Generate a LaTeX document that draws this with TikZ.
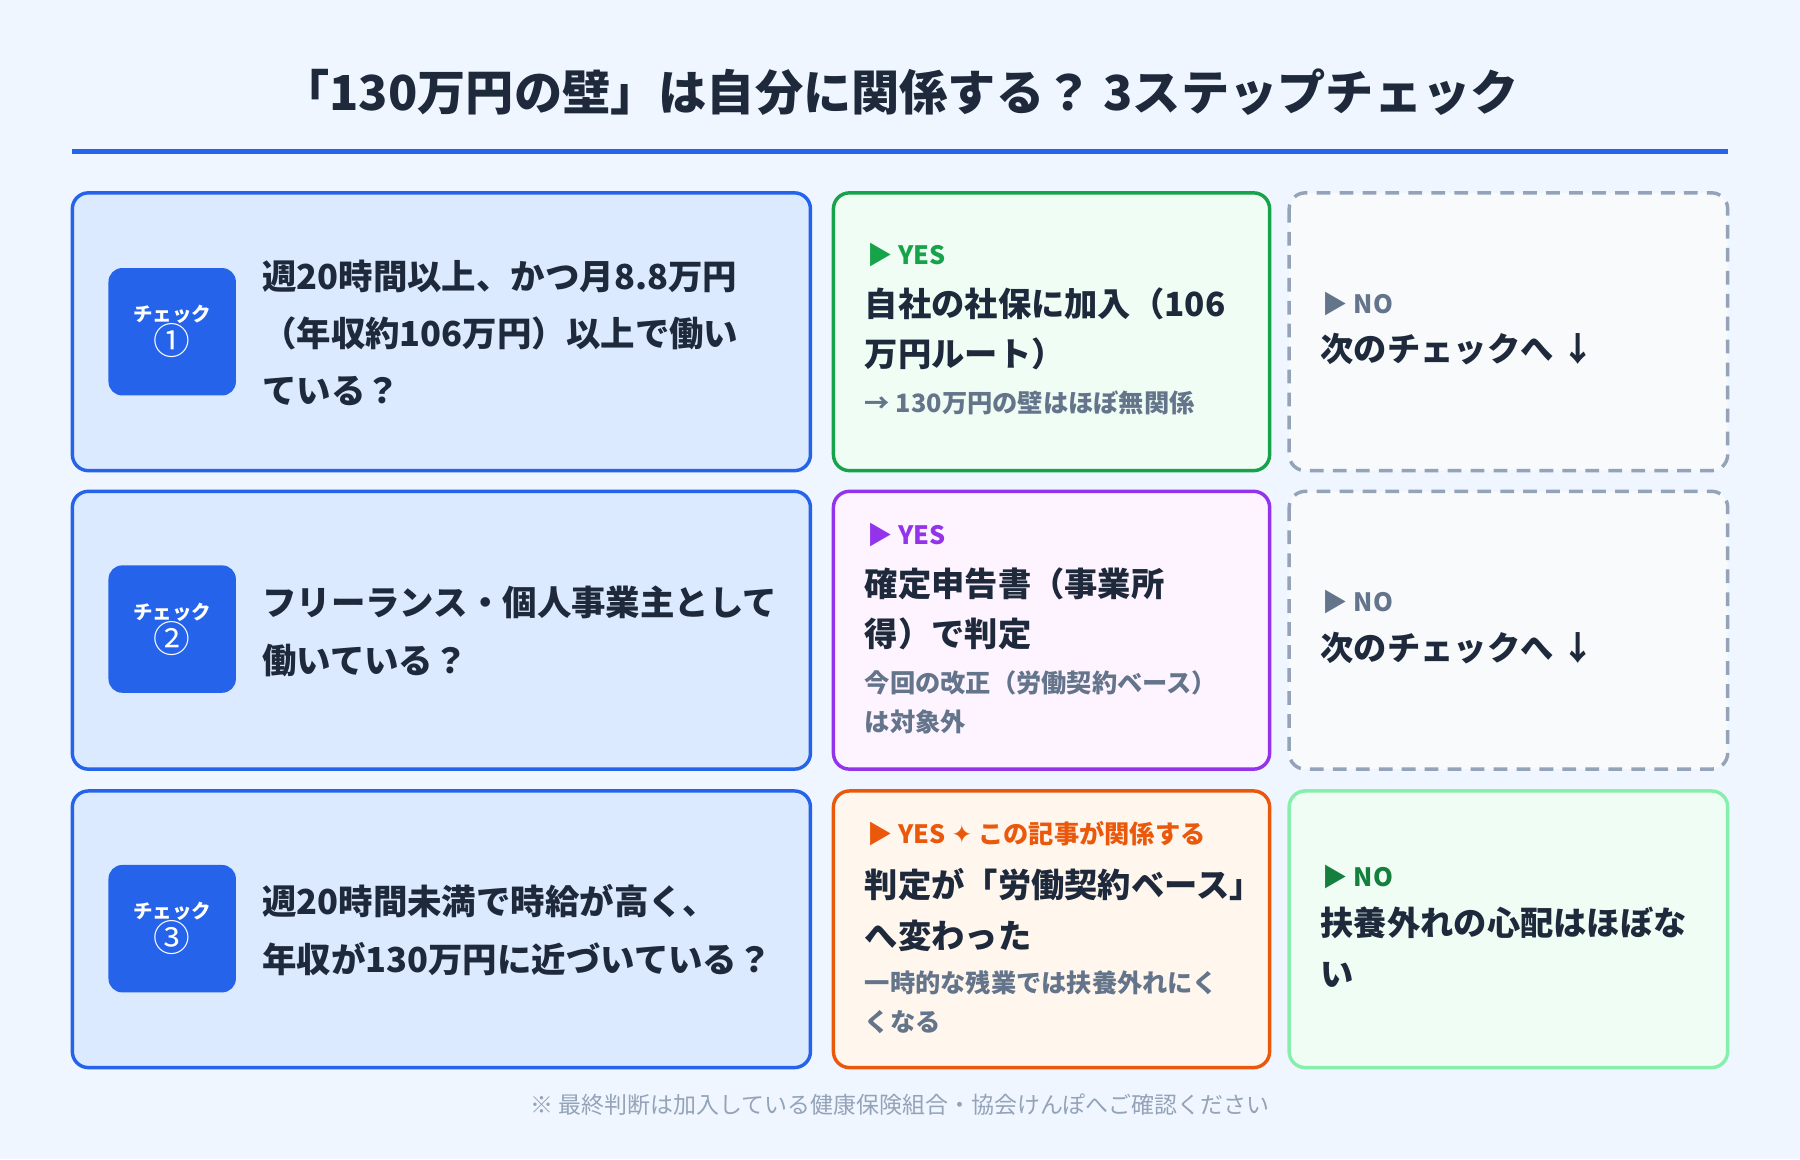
\documentclass[tikz,border=0pt]{standalone}
\usepackage{fontspec}
\setmainfont{Noto Sans CJK JP}
\newfontfamily\symfont{DejaVu Sans}
\XeTeXlinebreaklocale "ja"
\definecolor{bgc}{HTML}{EFF6FF}
\definecolor{mainblue}{HTML}{2563EB}
\definecolor{qfill}{HTML}{DBEAFE}
\definecolor{ink}{HTML}{1E293B}
\definecolor{gfill}{HTML}{F0FDF4}
\definecolor{gline}{HTML}{16A34A}
\definecolor{pfill}{HTML}{FDF4FF}
\definecolor{pline}{HTML}{9333EA}
\definecolor{ofill}{HTML}{FFF7ED}
\definecolor{oline}{HTML}{EA580C}
\definecolor{nfill}{HTML}{F8FAFC}
\definecolor{nline}{HTML}{94A3B8}
\definecolor{lgline}{HTML}{86EFAC}
\definecolor{ngreen}{HTML}{15803D}
\definecolor{subgray}{HTML}{64748B}
\begin{document}
\begin{tikzpicture}[
    x=0.5pt, y=-0.5pt,
    card/.style={rounded corners=7pt, line width=1.5pt},
    badge/.style={fill=mainblue, rounded corners=6pt, minimum width=55.5pt, minimum height=55.5pt,
      text=white, align=center, inner sep=0pt},
    qtext/.style={anchor=west, align=left, text=ink, font=\fontsize{15}{25}\selectfont\bfseries, inner sep=0pt},
    tag/.style={anchor=west, inner sep=0pt, font=\fontsize{11}{13}\selectfont\bfseries},
    body/.style={anchor=north west, align=left, inner sep=0pt, text=ink, font=\fontsize{14.5}{22}\selectfont\bfseries},
    sub/.style={anchor=north west, align=left, inner sep=0pt, text=subgray, font=\fontsize{11}{17}\selectfont\bfseries}]
    % background
    \fill[bgc] (0,0) rectangle (1568,1010);
    % title
    \node[text=ink, font=\fontsize{21}{25}\selectfont\bfseries] (title) at (784,80) {「130万円の壁」は自分に関係する？ 3ステップチェック};
    \draw[mainblue, line width=2pt] (63,132) -- (1505,132);

    % ROW 1
    \draw[card, draw=mainblue, fill=qfill] (63,168) rectangle (706,410);
    \node[badge] (b1) at (150,289) {\fontsize{8.5}{10}\selectfont\bfseries チェック\\[-1pt]\fontsize{16}{16}\selectfont ①};
    \node[qtext] (q1) at (228,290) {週20時間以上、かつ月8.8万円\\（年収約106万円）以上で働い\\ている？};
    \draw[card, draw=gline, fill=gfill] (726,168) rectangle (1106,410);
    \node[tag, text=gline] (y1) at (755,222) {▶ YES};
    \node[body] (r1) at (753,250) {自社の社保に加入（106\\万円ルート）};
    \node[sub] (s1) at (753,340) {→ 130万円の壁はほぼ無関係};
    \draw[card, draw=nline, fill=nfill, dashed, dash pattern=on 6pt off 4pt] (1123,168) rectangle (1505,410);
    \node[tag, text=subgray] (n1) at (1152,265) {▶ NO};
    \node[body] (m1) at (1150,290) {次のチェックへ ↓};

    % ROW 2
    \draw[card, draw=mainblue, fill=qfill] (63,428) rectangle (706,670);
    \node[badge] (b2) at (150,548) {\fontsize{8.5}{10}\selectfont\bfseries チェック\\[-1pt]\fontsize{16}{16}\selectfont ②};
    \node[qtext] (q2) at (228,550) {フリーランス・個人事業主として\\働いている？};
    \draw[card, draw=pline, fill=pfill] (726,428) rectangle (1106,670);
    \node[tag, text=pline] (y2) at (755,466) {▶ YES};
    \node[body] (r2) at (753,494) {確定申告書（事業所\\得）で判定};
    \node[sub] (s2) at (753,584) {今回の改正（労働契約ベース）\\は対象外};
    \draw[card, draw=nline, fill=nfill, dashed, dash pattern=on 6pt off 4pt] (1123,428) rectangle (1505,670);
    \node[tag, text=subgray] (n2) at (1152,524) {▶ NO};
    \node[body] (m2) at (1150,550) {次のチェックへ ↓};

    % ROW 3
    \draw[card, draw=mainblue, fill=qfill] (63,689) rectangle (706,930);
    \node[badge] (b3) at (150,809) {\fontsize{8.5}{10}\selectfont\bfseries チェック\\[-1pt]\fontsize{16}{16}\selectfont ③};
    \node[qtext] (q3) at (228,810) {週20時間未満で時給が高く、\\年収が130万円に近づいている？};
    \draw[card, draw=oline, fill=ofill] (726,689) rectangle (1106,930);
    \node[tag, text=oline] (y3) at (755,726) {▶ YES {\symfont ✦} この記事が関係する};
    \node[body] (r3) at (753,756) {判定が「労働契約ベース」\\へ変わった};
    \node[sub] (s3) at (753,845) {一時的な残業では扶養外れにく\\くなる};
    \draw[card, draw=lgline, fill=gfill] (1123,689) rectangle (1505,930);
    \node[tag, text=ngreen] (n3) at (1152,764) {▶ NO};
    \node[body] (m3) at (1150,790) {扶養外れの心配はほぼな\\い};

    % footer
    \node[text=nline, font=\fontsize{10}{12}\selectfont] (foot) at (784,962) {※ 最終判断は加入している健康保険組合・協会けんぽへご確認ください};
\end{tikzpicture}
\end{document}
